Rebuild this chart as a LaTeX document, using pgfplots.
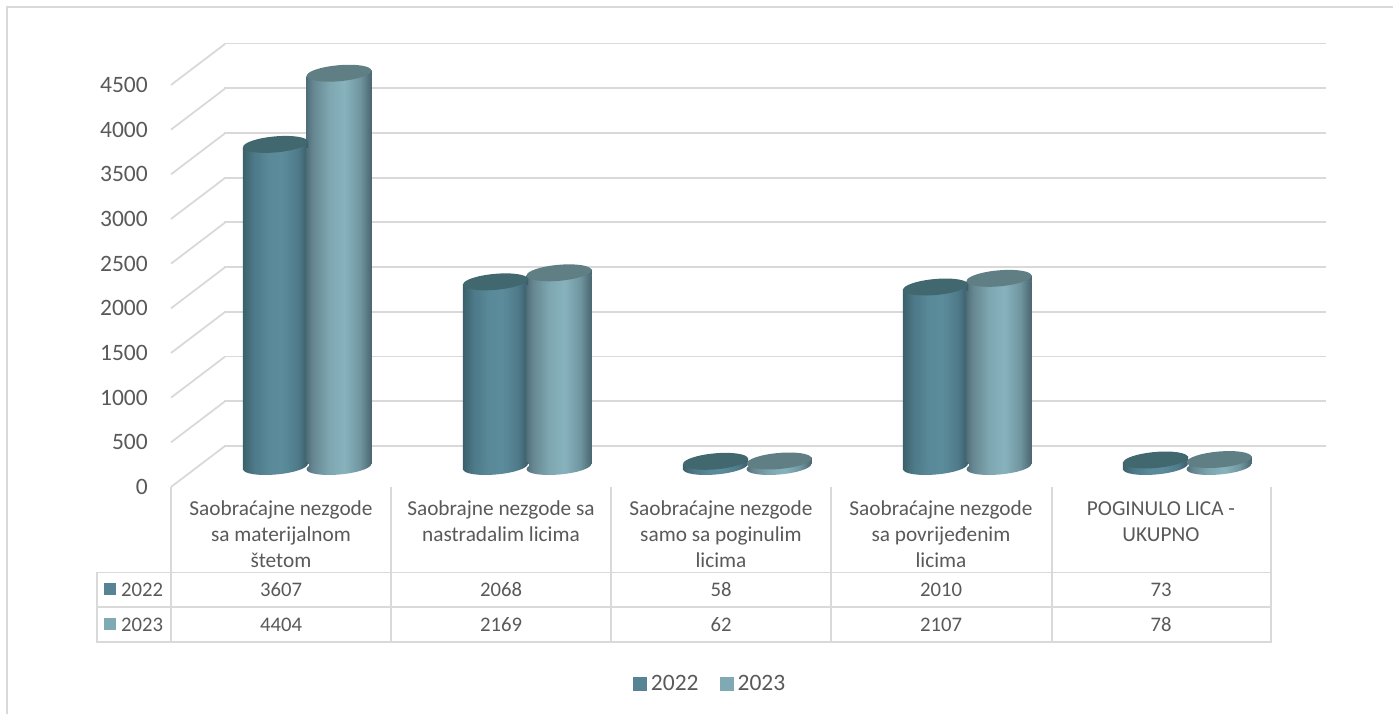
\documentclass[border=0pt]{standalone}
\usepackage{pgfplots}
\pgfplotsset{compat=1.18}
\usepackage{fontspec}
\setmainfont{Carlito}

\definecolor{txt}{HTML}{595959}
\definecolor{rule}{HTML}{D9D9D9}
\definecolor{flatA}{HTML}{568494}
\definecolor{flatB}{HTML}{7FAAB4}
\definecolor{capA}{HTML}{41676F}
\definecolor{capB}{HTML}{5F7F85}

% cylinder sides: only 25bp..75bp of a shading lands on the path
\pgfdeclarehorizontalshading{cylA}{100bp}{
  rgb(0bp)=(.23,.38,.42); rgb(25bp)=(.23,.38,.42); rgb(33bp)=(.30,.47,.53);
  rgb(45bp)=(.35,.54,.60); rgb(55bp)=(.36,.55,.61); rgb(67bp)=(.31,.48,.54);
  rgb(73bp)=(.25,.39,.44); rgb(75bp)=(.22,.35,.39); rgb(100bp)=(.22,.35,.39)}
\pgfdeclarehorizontalshading{cylB}{100bp}{
  rgb(0bp)=(.31,.43,.47); rgb(25bp)=(.31,.43,.47); rgb(30bp)=(.40,.53,.57);
  rgb(42bp)=(.49,.65,.69); rgb(54bp)=(.53,.70,.74); rgb(66bp)=(.44,.59,.63);
  rgb(73bp)=(.32,.44,.48); rgb(75bp)=(.29,.40,.44); rgb(100bp)=(.29,.40,.44)}

% tilted ellipse, rotate= is not honoured inside a plot mark
\newcommand\tilted{(32.4pt,2.84pt)
  .. controls (32.01pt,7.24pt) and (17.19pt,9.54pt) .. (-.7pt,7.97pt)
  .. controls (-18.59pt,6.40pt) and (-32.79pt,1.56pt) .. (-32.4pt,-2.84pt)
  .. controls (-32.01pt,-7.24pt) and (-17.19pt,-9.54pt) .. (.7pt,-7.97pt)
  .. controls (18.59pt,-6.40pt) and (32.79pt,-1.56pt) .. (32.4pt,2.84pt) -- cycle}

% bottom of a cylinder, the white corner hides the square end of the bar
\newcommand\cylbase[1]{%
  \path[draw=none,fill=white] (15pt,-11pt) rectangle (33.5pt,2.6pt);
  \path[draw=none,shading=#1] \tilted;}
% top of a cylinder
\newcommand\cylcap[2]{%
  \begin{scope}
    \path[draw=none,clip] (32.6pt,-3pt) -- (32.6pt,3pt) -- (18pt,3pt) -- (18pt,-3pt) -- cycle;
    \path[draw=none,shading=#1] (-32.6pt,-3pt) rectangle (32.6pt,3pt);
  \end{scope}
  \path[draw=none,fill=#2] \tilted;}
\pgfdeclareplotmark{baseA}{\cylbase{cylA}}
\pgfdeclareplotmark{baseB}{\cylbase{cylB}}
\pgfdeclareplotmark{capA}{\cylcap{cylA}{capA}}
\pgfdeclareplotmark{capB}{\cylcap{cylB}{capB}}

% one cylinder: series letter, shift, category, value
\newcommand\cyl[4]{%
  \addplot[forget plot,ybar,bar width=65.2pt,bar shift=#2,shading=cyl#1,draw=none,yshift=-2.84pt]
    coordinates {(#3,#4)};
  \addplot[forget plot,only marks,mark=base#1,mark options={xshift=#2}] coordinates {(#3,0)};
  \addplot[forget plot,only marks,mark=cap#1,mark options={xshift=#2}] coordinates {(#3,#4)};
}

\newcommand\bigfont{\fontsize{23.5}{26}\selectfont}
\newcommand\smallfont{\fontsize{20.7}{26}\selectfont}
\newcommand\catfont{\fontsize{21.3}{26}\selectfont}

\begin{document}
\begin{tikzpicture}
\path[use as bounding box] (0,0) rectangle (1393pt,-714pt);
% outer frame
\draw[rule,line width=1.8pt] (7pt,-714pt) -- (7pt,-7pt) -- (1393pt,-7pt);

% side wall lines
\foreach \k in {0,...,9}
  \draw[rule,line width=1.8pt] (171pt,{-487pt+44.67pt*\k}) -- (225pt,{-446pt+44.67pt*\k});

% back wall
\begin{axis}[
  at={(224pt,-446pt)}, anchor=south west,
  scale only axis, width=1102pt, height=402.5pt,
  xmin=0, xmax=1, ymin=0, ymax=4500,
  axis line style={draw=none},
  xtick=\empty, ytick={0,500,...,4500}, yticklabel=\empty,
  major tick length=0pt,
  ymajorgrids, grid style={rule,line width=1.8pt},
]
\end{axis}

% front plane: value scale and category names
\begin{axis}[
  at={(171pt,-487pt)}, anchor=south west,
  scale only axis, width=1100pt, height=402pt,
  xmin=-0.5, xmax=4.5, ymin=0, ymax=4500,
  axis line style={draw=none},
  major tick length=0pt,
  ytick={0,500,...,4500},
  xtick={0,1,2,3,4},
  xticklabels={{Saobraćajne nezgode\\sa materijalnom\\štetom},
    {Saobrajne nezgode sa\\nastradalim licima},
    {Saobraćajne nezgode\\samo sa poginulim\\licima},
    {Saobraćajne nezgode\\sa povrijeđenim\\licima},
    {POGINULO LICA -\\UKUPNO}},
  xticklabel style={align=center,font=\catfont,text=txt,anchor=north,inner sep=0pt,yshift=-14pt},
  yticklabel style={font=\bigfont,text=txt,inner sep=0pt,xshift=-23pt,anchor=east},
  /pgf/number format/assume math mode=true,
  /pgf/number format/1000 sep={},
]
\end{axis}

% data table
\draw[rule,line width=1.8pt] (97pt,-572.5pt) rectangle (1271pt,-642pt);
\draw[rule,line width=1.8pt] (97pt,-607pt) -- (1271pt,-607pt);
\foreach \x in {171,391,611,831,1052,1271}
  \draw[rule,line width=1.8pt] (\x pt,-487pt) -- (\x pt,-642pt);
\fill[flatA] (104pt,-583pt) rectangle (116pt,-595pt);
\fill[flatB] (104pt,-618pt) rectangle (116pt,-630pt);
\begin{scope}[every node/.style={font=\smallfont,text=txt,inner sep=0pt,anchor=base}]
  \node at (142pt,-596pt) {2022};
  \node at (142pt,-631pt) {2023};
  \node at (281pt,-596pt) {3607};
  \node at (501pt,-596pt) {2068};
  \node at (721pt,-596pt) {58};
  \node at (941pt,-596pt) {2010};
  \node at (1161pt,-596pt) {73};
  \node at (281pt,-631pt) {4404};
  \node at (501pt,-631pt) {2169};
  \node at (721pt,-631pt) {62};
  \node at (941pt,-631pt) {2107};
  \node at (1161pt,-631pt) {78};
\end{scope}

% cylinders, axis stretched over the whole picture so 1 unit of x is 220pt
\begin{axis}[
  at={(0pt,-714pt)}, anchor=south west,
  scale only axis, width=1393pt, height=714pt,
  xmin=-1.39659, xmax=4.93523, ymin=-2771.5, ymax=5224,
  axis line style={draw=none},
  xtick=\empty, ytick=\empty,
  clip=false,
  legend columns=2,
  legend style={draw=none,fill=none,at={(0.5087,0.042)},anchor=center,
    font=\bigfont,text=txt,inner sep=0pt,
    /tikz/every even column/.append style={column sep=16pt}},
]
\cyl{A}{-31.75pt}{0}{3607}
\cyl{B}{31.75pt}{0}{4404}
\cyl{A}{-31.75pt}{1}{2068}
\cyl{B}{31.75pt}{1}{2169}
\cyl{A}{-31.75pt}{2}{58}
\cyl{B}{31.75pt}{2}{62}
\cyl{A}{-31.75pt}{3}{2010}
\cyl{B}{31.75pt}{3}{2107}
\cyl{A}{-31.75pt}{4}{73}
\cyl{B}{31.75pt}{4}{78}
\addlegendimage{legend image code/.code={\path[draw=none,fill=flatA] (3pt,-7pt) rectangle (17pt,7pt); \path[draw=none] (0pt,0pt) -- (19pt,0pt);}}
\addlegendentry{2022}
\addlegendimage{legend image code/.code={\path[draw=none,fill=flatB] (3pt,-7pt) rectangle (17pt,7pt); \path[draw=none] (0pt,0pt) -- (19pt,0pt);}}
\addlegendentry{2023}
\end{axis}
\end{tikzpicture}
\end{document}
